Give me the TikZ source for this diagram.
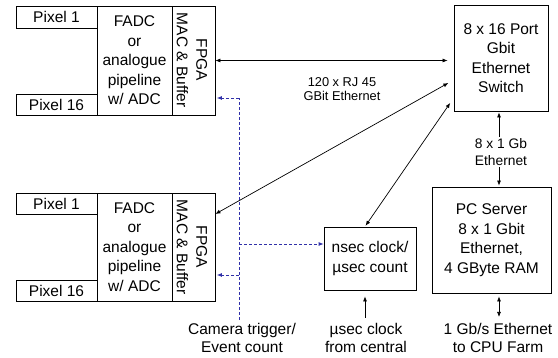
\documentclass[tikz,border=0pt]{standalone}
\usepackage{fontspec}
\setmainfont{Liberation Sans}
\usetikzlibrary{arrows.meta}
\newcommand\mainfnt{\fontsize{15.5}{19.5}\selectfont}
\newcommand\botfnt{\fontsize{15.5}{18}\selectfont}
\newcommand\smallfnt{\fontsize{12.8}{14}\selectfont}
\newcommand\midfnt{\fontsize{13.8}{17}\selectfont}
\definecolor{trigblue}{RGB}{48,48,168}
\begin{document}
\begin{tikzpicture}[x=1pt,y=-1pt,
  box/.style={draw, line width=0.8pt, inner sep=1pt, align=center, font=\mainfnt},
  lbl/.style={align=center, font=\mainfnt, inner sep=0pt},
  botlbl/.style={align=center, font=\botfnt, inner sep=0pt},
  darr/.style={line width=0.7pt, {Latex[length=5pt,width=4pt]}-{Latex[length=5pt,width=4pt]}},
  sarr/.style={line width=0.7pt, -{Latex[length=5pt,width=4pt]}},
  trig/.style={trigblue, line width=0.8pt, dash pattern=on 3pt off 2pt, -{Latex[length=5pt,width=4pt]}},
  trigline/.style={trigblue, line width=0.8pt, dash pattern=on 3pt off 2pt}
]
\path[use as bounding box] (0,0) rectangle (558,358);

% top module
\node[box, minimum width=81pt, minimum height=22pt] (pix1a) at (56.5,17) {Pixel 1};
\node[box, minimum width=81pt, minimum height=21pt] (pix16a) at (56.5,104.5) {Pixel 16};
\node[box, minimum width=75pt, minimum height=109pt] (fadca) at (134.5,60.5) {FADC\\or\\analogue\\pipeline\\w/ ADC};
\node[box, minimum width=43pt, minimum height=109pt] (fpgaa) at (193.5,60.5) {};
\node[lbl, rotate=-90] (fpgaatxt) at (192,60) {FPGA\\MAC \& Buffer};

% bottom module
\node[box, minimum width=81pt, minimum height=21pt] (pix1b) at (56.5,203.5) {Pixel 1};
\node[box, minimum width=81pt, minimum height=21pt] (pix16b) at (56.5,290.5) {Pixel 16};
\node[box, minimum width=75pt, minimum height=108pt] (fadcb) at (134.5,247) {FADC\\or\\analogue\\pipeline\\w/ ADC};
\node[box, minimum width=43pt, minimum height=108pt] (fpgab) at (193.5,247) {};
\node[lbl, rotate=-90] (fpgabtxt) at (192,247) {FPGA\\MAC \& Buffer};

% switch, clock, server
\node[box, minimum width=94pt, minimum height=106pt] (switch) at (501,58) {8 x 16 Port\\Gbit\\Ethernet\\Switch};
\node[box, minimum width=92pt, minimum height=63pt] (nsec) at (370,258.5) {nsec clock/\\µsec count};
\node[box, minimum width=119pt, minimum height=106pt] (server) at (491.5,240) {PC Server\\8 x 1 Gbit\\Ethernet,\\4 GByte RAM};

% ethernet connectors
\draw[darr, shorten >=6pt] (fpgaa.east) -- (fpgaa.east -| switch.west);
\node[lbl, font=\smallfnt] (rjlbl) at (342,89.5) {120 x RJ 45\\GBit Ethernet};
\draw[darr, shorten >=6pt] ([yshift=33pt]fpgab.east) -- ([yshift=-22pt]switch.west);
\draw[darr, shorten >=6pt, shorten <=1pt] ([xshift=-5pt]nsec.north) -- ([yshift=-40pt]switch.west);

\draw[darr] ([xshift=-2pt,yshift=-1pt]switch.south) -- ([xshift=7.5pt,yshift=1pt]server.north);
\node[lbl, font=\midfnt, fill=white, inner sep=1pt] (gblbl) at (501,152) {8 x 1 Gb\\Ethernet};

\coordinate (farm) at (499,317);
\draw[darr] ([xshift=7.5pt,yshift=-3pt]server.south) -- (farm);
\node[botlbl] (farmlbl) at (498,338) {1 Gb/s Ethernet\\to CPU Farm};

\coordinate (usec) at (365,318);
\draw[sarr] (usec) -- ([xshift=-5pt,yshift=-6pt]nsec.south);
\node[botlbl] (useclbl) at (366,338) {µsec clock\\from central};

% trigger
\coordinate (trigtop) at (239,98);
\coordinate (trigbot) at (239,320);
\coordinate (trigmid) at (239,244);
\coordinate (triglow) at (239,275);
\draw[trigline] (trigbot) -- (trigtop);
\draw[trig] (trigtop) -- ([xshift=1.5pt]fpgaa.east |- trigtop);
\draw[trig] (trigmid) -- (nsec.west |- trigmid);
\draw[trig] (triglow) -- ([xshift=1.5pt]fpgab.east |- triglow);
\node[botlbl] (triglbl) at (242,338) {Camera trigger/\\Event count};
\end{tikzpicture}
\end{document}
